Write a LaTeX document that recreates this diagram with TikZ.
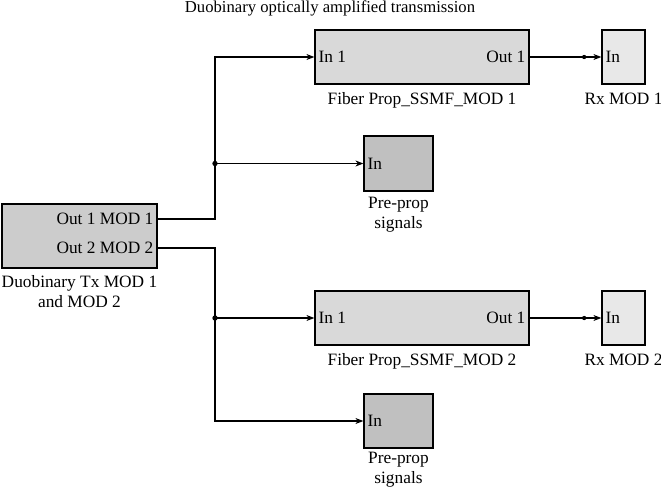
\documentclass[tikz,border=0pt]{standalone}
\usepackage{fontspec}
\setmainfont{Liberation Serif}
\usetikzlibrary{positioning,arrows.meta}

\definecolor{txgray}{RGB}{204,204,204}
\definecolor{fibgray}{RGB}{217,217,217}
\definecolor{rxgray}{RGB}{232,232,232}
\definecolor{pregray}{RGB}{192,192,192}

\tikzset{
  blk/.style={draw, line width=0.9pt, inner sep=0pt},
  port/.style={inner sep=3pt, font=\fontsize{13}{15}\selectfont},
  lbl/.style={align=center, inner sep=1pt, font=\fontsize{13}{15}\selectfont},
  wire/.style={line width=0.8pt, ->},
}

\begin{document}
\begin{tikzpicture}[x=0.75pt, y=-0.75pt, >={Stealth[length=6pt,width=4.5pt]},
  font=\fontsize{12.5}{15}\selectfont]
    \useasboundingbox (0,0) rectangle (661,489);

    \node (title) at (330,8) {Duobinary optically amplified transmission};

    % blocks
    \node[blk, fill=txgray, minimum width=116.25pt, minimum height=48pt] (tx) at (79.5,236) {};
    \node[blk, fill=fibgray, minimum width=160.5pt, minimum height=40.5pt] (f1) at (422,57) {};
    \node[blk, fill=rxgray, minimum width=32.25pt, minimum height=40.5pt] (rx1) at (623.5,57) {};
    \node[blk, fill=pregray, minimum width=51.75pt, minimum height=41.25pt] (pre1) at (398.5,163.5) {};
    \node[blk, fill=fibgray, minimum width=160.5pt, minimum height=40.5pt] (f2) at (422,318) {};
    \node[blk, fill=rxgray, minimum width=32.25pt, minimum height=40.5pt] (rx2) at (623.5,318) {};
    \node[blk, fill=pregray, minimum width=51.75pt, minimum height=40.5pt] (pre2) at (398.5,421) {};

    % ports
    \coordinate (tx1) at (tx.east |- 0,219);
    \coordinate (tx2) at (tx.east |- 0,248);
    \node[port, anchor=east] (txo1) at (tx1) {Out 1 MOD 1};
    \node[port, anchor=east] (txo2) at (tx2) {Out 2 MOD 2};
    \node[port, anchor=west] (f1in) at (f1.west) {In 1};
    \node[port, anchor=east] (f1out) at (f1.east) {Out 1};
    \node[port, anchor=west] (rx1in) at (rx1.west) {In};
    \node[port, anchor=west] (pre1in) at (pre1.west) {In};
    \node[port, anchor=west] (f2in) at (f2.west) {In 1};
    \node[port, anchor=east] (f2out) at (f2.east) {Out 1};
    \node[port, anchor=west] (rx2in) at (rx2.west) {In};
    \node[port, anchor=west] (pre2in) at (pre2.west) {In};

    % block names
    \node[lbl, below=4pt of tx] (txlbl) {Duobinary Tx MOD 1\\and MOD 2};
    \node[lbl, below=5pt of f1] (f1lbl) {Fiber Prop\_SSMF\_MOD 1};
    \node[lbl, below=5pt of rx1] (rx1lbl) {Rx MOD 1};
    \node[lbl, below=3pt of pre1] (pre1lbl) {Pre-prop\\signals};
    \node[lbl, below=5pt of f2] (f2lbl) {Fiber Prop\_SSMF\_MOD 2};
    \node[lbl, below=5pt of rx2] (rx2lbl) {Rx MOD 2};
    \node[lbl, below=1.5pt of pre2] (pre2lbl) {Pre-prop\\signals};

    % wiring
    \coordinate (j1) at (215,163.5);
    \coordinate (j2) at (215,318);
    \draw[wire] (tx1) -| (j1) |- (f1.west);
    \draw[wire] (j1) -- (pre1.west);
    \draw[wire] (tx2) -| (j2) |- (pre2.west);
    \draw[wire] (j2) -- (f2.west);
    \fill (j1) circle (2pt);
    \fill (j2) circle (2pt);

    \draw[wire] (f1.east) -- coordinate[pos=0.76] (d1) (rx1.west);
    \draw[wire] (f2.east) -- coordinate[pos=0.76] (d2) (rx2.west);
    \fill (d1) circle (1.6pt);
    \fill (d2) circle (1.6pt);
\end{tikzpicture}
\end{document}
